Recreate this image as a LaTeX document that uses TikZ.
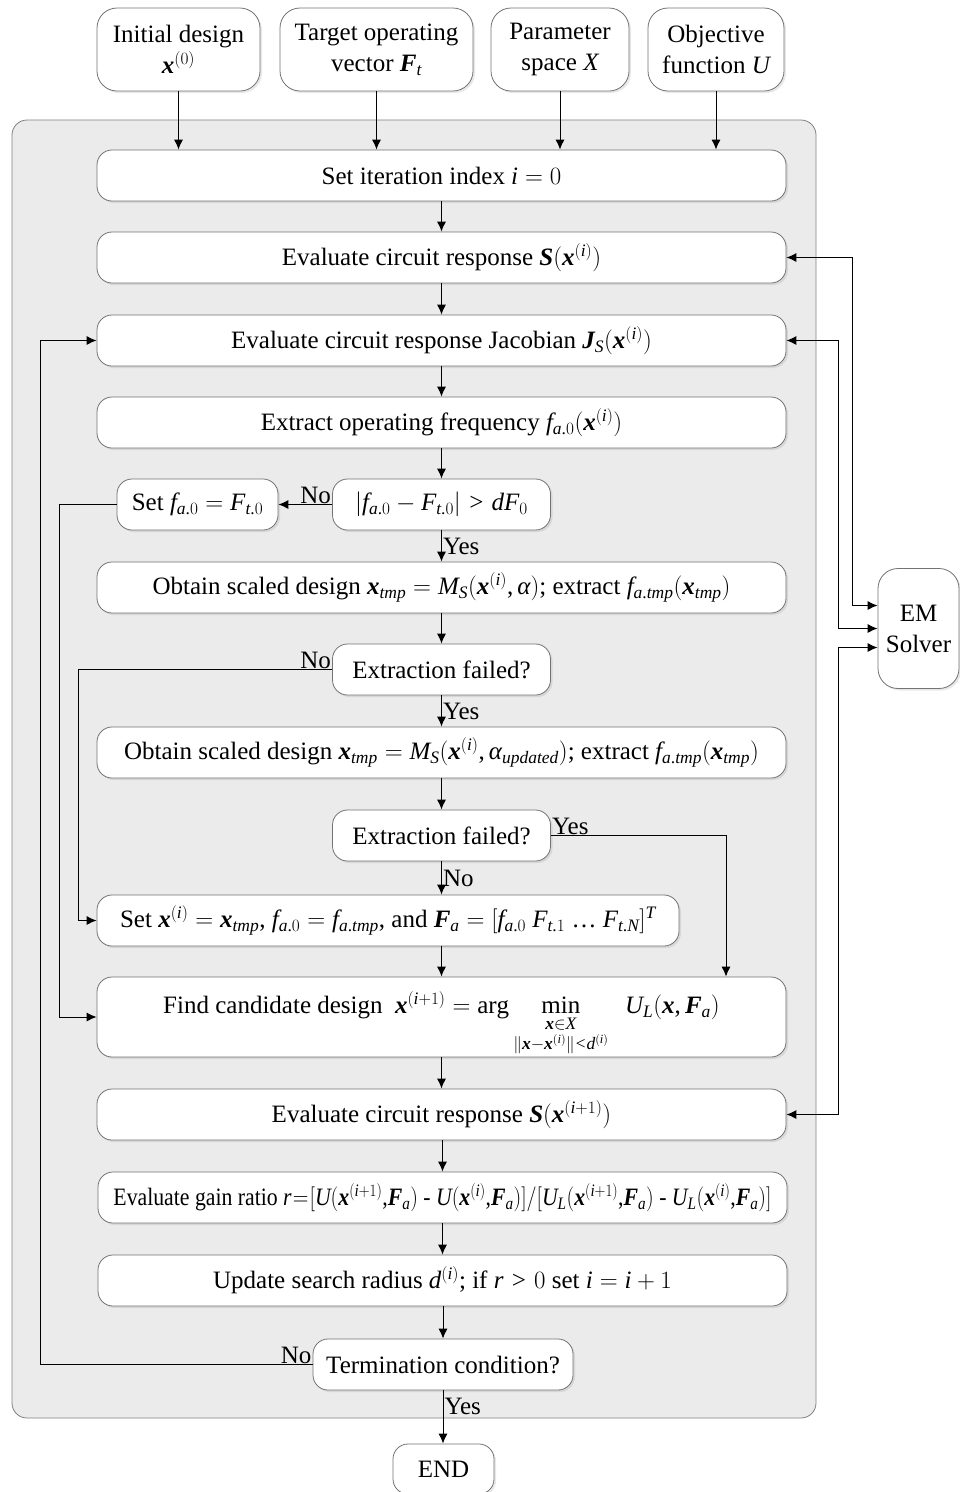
\documentclass[tikz,border=0pt]{standalone}
\usepackage{amsmath}
\usepackage{graphicx}
\usepackage{fontspec}
\setmainfont[NFSSFamily=libserif]{Liberation Serif}
% Times-like letters in formulas too
\DeclareSymbolFont{letters}{TU}{libserif}{m}{it}
\SetSymbolFont{letters}{bold}{TU}{libserif}{b}{it}
\DeclareSymbolFont{operators}{TU}{libserif}{m}{n}
\SetSymbolFont{operators}{bold}{TU}{libserif}{b}{n}
\mathcode`,="602C
\mathcode`.="002E
\mathcode`/="002F
\newcommand{\alf}{\text{\itshape α}}
\newcommand{\tightmath}{\thickmuskip=1mu\relax\medmuskip=1mu\relax}
\usepackage{tikz}
\usetikzlibrary{positioning}
\usetikzlibrary{calc}
\usetikzlibrary{shadows}
\usetikzlibrary{arrows.meta}
\tikzset{
    % Filled triangle heads, as in the drawing
    >={Latex[length=10pt,width=9pt]},
%
    % Rounded white step box with a soft shadow
    stepbox/.style={
        draw=black!55, line width=0.8pt, fill=white, rounded corners=15pt,
        drop shadow={shadow xshift=2pt, shadow yshift=-2pt, opacity=0.18},
        minimum height=51pt, inner sep=2pt, align=center},
%
    % Full width step and the narrower test boxes
    wide box/.style={stepbox, minimum width=689pt},
    test box/.style={stepbox, minimum width=218pt},
%
    % The big grey frame round the loop
    frame fill/.style={fill=black!8, draw=black!50, line width=0.8pt, rounded corners=15pt},
%
    % Connectors and their Yes/No tags
    flow/.style={line width=1pt, ->},
    tag/.style={inner sep=1pt}}

\begin{document}
\begin{tikzpicture}[x=1pt, y=-1pt, font=\fontsize{25}{31}\selectfont]
\useasboundingbox (0,0) rectangle (959,1492);

\path[frame fill] (12,120) rectangle (816,1418);

% inputs to the loop
\node (inx) [stepbox, minimum width=163pt, minimum height=83pt, rounded corners=20pt]
    at (178.5,49.5) {Initial design\\$\boldsymbol{x}^{(0)}$};
\node (inF) [stepbox, minimum width=193pt, minimum height=83pt, rounded corners=20pt]
    at (376.5,49.5) {Target operating\\vector $\boldsymbol{F}_t$};
\node (inX) [stepbox, minimum width=138pt, minimum height=83pt, rounded corners=20pt]
    at (560,49.5) {Parameter\\space $X$};
\node (inU) [stepbox, minimum width=136pt, minimum height=83pt, rounded corners=20pt]
    at (716,49.5) {Objective\\function $U$};

% main column
\node (setidx) [wide box] at (441.5,175.5) {Set iteration index $i = 0$};
\node (evalS) [wide box] at (441.5,257.5)
    {Evaluate circuit response $\boldsymbol{S}(\boldsymbol{x}^{(i)})$};
\node (jac) [wide box] at (441.5,340.5)
    {Evaluate circuit response Jacobian $\boldsymbol{J}_S(\boldsymbol{x}^{(i)})$};
\node (extract) [wide box] at (441.5,422.5)
    {Extract operating frequency $f_{a.0}(\boldsymbol{x}^{(i)})$};
\node (freqchk) [test box] at (441.5,504.5) {$|f_{a.0} - F_{t.0}| > dF_0$};
\node (setf) [stepbox, minimum width=161pt] at (197.5,504.5) {Set $f_{a.0} = F_{t.0}$};
\node (scale1) [wide box] at (441.5,587.5)
    {Obtain scaled design $\boldsymbol{x}_{tmp} = M_S(\boldsymbol{x}^{(i)},\alf)$;
     extract $f_{a.tmp}(\boldsymbol{x}_{tmp})$};
\node (fail1) [test box] at (441.5,669.5) {Extraction failed?};
\node (scale2) [wide box] at (441.5,752.5)
    {Obtain scaled design $\boldsymbol{x}_{tmp} = M_S(\boldsymbol{x}^{(i)},\alf_{updated})$;
     extract $f_{a.tmp}(\boldsymbol{x}_{tmp})$};
\node (fail2) [test box] at (441.5,835.5) {Extraction failed?};
\node (setx) [stepbox, minimum width=582pt] at (388,920.5)
    {Set $\boldsymbol{x}^{(i)} = \boldsymbol{x}_{tmp}$, $f_{a.0} = f_{a.tmp}$, and
     $\boldsymbol{F}_a = [f_{a.0}\ F_{t.1}$ \ldots\ $F_{t.N}]^T$};
\node (cand) [wide box, minimum height=80pt, inner ysep=0pt] at (441.5,1017)
    {\rule{0pt}{36pt}Find candidate design \ $\boldsymbol{x}^{(i+1)} = \arg
     \min\limits_{\substack{\boldsymbol{x}\in X\rule[-3pt]{0pt}{0pt}\\
        \rule{0pt}{12pt}\|\boldsymbol{x}-\boldsymbol{x}^{(i)}\|<d^{(i)}}}
     \ \ U_L(\boldsymbol{x},\boldsymbol{F}_a)$};
\node (evalS2) [wide box] at (441.5,1114.5)
    {Evaluate circuit response $\boldsymbol{S}(\boldsymbol{x}^{(i+1)})$};
\node (gain) [wide box] at (442.5,1197.5)
    {\scalebox{0.87}[1]{\tightmath Evaluate gain ratio
     $r = [U(\boldsymbol{x}^{(i+1)}{,}\boldsymbol{F}_a)$ -
     $U(\boldsymbol{x}^{(i)}{,}\boldsymbol{F}_a)]/[U_L(\boldsymbol{x}^{(i+1)}{,}\boldsymbol{F}_a)$ -
     $U_L(\boldsymbol{x}^{(i)}{,}\boldsymbol{F}_a)]$}};
\node (radius) [wide box] at (442.5,1280.5)
    {Update search radius $d^{(i)}$; if $r > 0$ set $i = i + 1$};
\node (term) [stepbox, minimum width=260pt] at (443,1364.5) {Termination condition?};
\node (done) [stepbox, minimum width=101pt, minimum height=50pt] at (443.5,1469) {END};

\node (em) [stepbox, minimum width=81pt, minimum height=120pt, rounded corners=20pt]
    at (918.5,628.5) {EM\\Solver};

% columns for the long connectors
\coordinate (back term) at (40,0);
\coordinate (back setf) at (59,0);
\coordinate (back fail) at (78,0);
\coordinate (drop) at (726,0);
\coordinate (bus near) at (838,0);
\coordinate (bus far) at (852,0);

\foreach \src in {inx, inF, inX, inU}
    \draw[flow] (\src.south) -- (\src.south |- setidx.north);

\foreach \a/\b in {setidx/evalS, evalS/jac, jac/extract, extract/freqchk,
                   scale1/fail1, scale2/fail2, cand/evalS2, evalS2/gain,
                   gain/radius, radius/term}
    \draw[flow] (\b.north |- \a.south) -- (\b.north);

\draw[flow] (freqchk) -- node[right, tag] {Yes} (scale1);
\draw[flow] (fail1) -- node[right, tag] {Yes} (scale2);
\draw[flow] (fail2.south) -- node[right, tag] {No} (fail2.south |- setx.north);
\draw[flow] (setx.south -| cand.north) -- (cand.north);
\draw[flow] (term.south) -- node[right, tag, pos=0.3] {Yes} (term.south |- done.north);

\draw[flow] (freqchk) -- (setf);
\node[tag, anchor=south east] at (freqchk.west) {No};
\draw[flow] (setf.west) -- (setf.west -| back setf) |- (cand.west);
\draw[flow] (fail1.west) -- (fail1.west -| back fail) |- (setx.west);
\node[tag, anchor=south east] at (fail1.west) {No};
\draw[flow] (fail2.east) -| (cand.north -| drop);
\node[tag, anchor=south west] at (fail2.east) {Yes};
\draw[flow] (term.west) -- (term.west -| back term) |- (jac.west);
\node[tag, anchor=south east] at (term.west) {No};

% links to the EM solver
\draw[flow, <->] (evalS.east) -- (evalS.east -| bus far) |- ([yshift=23pt]em.west);
\draw[flow, <->] (jac.east) -- (jac.east -| bus near) |- (em.west);
\draw[flow, <->] (evalS2.east) -- (evalS2.east -| bus near) |- ([yshift=-19pt]em.west);

\end{tikzpicture}
\end{document}
